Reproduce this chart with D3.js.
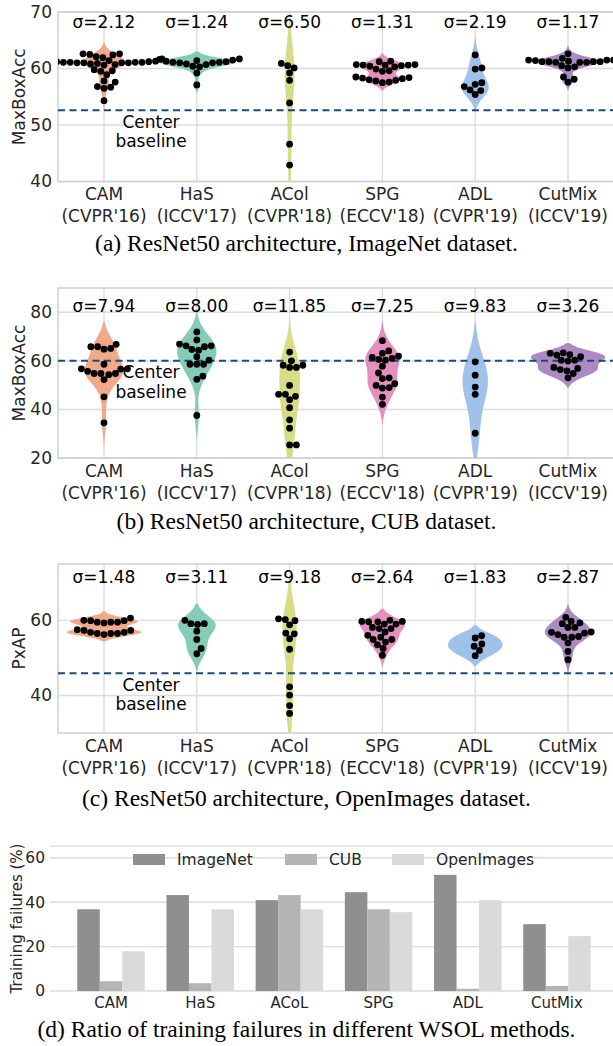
<!DOCTYPE html>
<html>
<head>
<meta charset="utf-8">
<script src="https://cdn.jsdelivr.net/npm/d3@7"></script>
<style>
  body { margin: 0; background: #fff; }
  svg { display: block; font-family: "DejaVu Sans", sans-serif; }
</style>
</head>
<body>
<svg id="chart" width="613" height="1046"></svg>
<script>
// categories
const methods = ["CAM", "HaS", "ACol", "SPG", "ADL", "CutMix"];
const venues = ["(CVPR'16)", "(ICCV'17)", "(CVPR'18)", "(ECCV'18)", "(CVPR'19)", "(ICCV'19)"];
const violinColors = ["#f0a98b", "#84ccb7", "#d6dd84", "#e58fbf", "#a0c1e9", "#ac8ac2"];

// (a) ImageNet MaxBoxAcc, one list per method
const imagenetBox = [
  [62.6, 62.5, 62.4, 62.6, 62.1, 61.9, 61.7, 61.4, 61.3, 61.3, 61.1, 61.1, 61.0, 61.0, 61.1, 61.2, 61.0,
   61.1, 60.9, 61.0, 61.2, 60.8, 60.6, 60.7, 59.8, 59.5, 59.6, 58.9, 57.6, 57.8, 56.7, 56.5, 56.8, 54.3],
  [61.7, 61.6, 61.5, 61.4, 61.3, 61.2, 61.1, 61.1, 61.0, 61.0, 60.8, 60.7, 60.4, 60.3, 59.2, 57.1],
  [60.9, 60.5, 60.1, 59.2, 57.9, 53.9, 46.6, 42.9],
  [61.3, 61.2, 60.7, 60.6, 60.5, 60.6, 60.4, 60.3, 60.6, 60.7, 59.6, 59.5, 59.9, 58.5, 58.3, 58.0, 57.8,
   57.5, 57.6, 57.9, 58.2, 58.4],
  [62.4, 60.1, 59.9, 57.5, 57.2, 56.8, 56.1, 56.2, 55.4],
  [61.5, 61.2, 61.1, 61.1, 61.2, 61.4, 61.8, 61.5, 61.2, 61.1, 61.2, 61.3, 61.5, 62.6, 60.3, 60.1, 60.5,
   58.1, 58.5, 57.6]
];
const imagenetSigma = ["2.12", "1.24", "6.50", "1.31", "2.19", "1.17"];
const imagenetBaseline = 52.6;

// (b) CUB MaxBoxAcc
const cubBox = [
  [66.8, 65.1, 64.8, 65.8, 65.8, 58.6, 56.7, 54.8, 54.3, 56.6, 54.8, 54.8, 55.7, 56.7, 52.3, 45.2, 34.5],
  [71.9, 68.6, 66.9, 66.2, 66.2, 65.8, 64.4, 64.7, 61.7, 60.3, 58.6, 58.6, 58.6, 53.7, 52.4, 37.5],
  [63.6, 60.0, 57.3, 57.3, 58.2, 58.2, 49.9, 45.4, 44.0, 46.2, 46.2, 40.7, 35.7, 32.3, 25.4, 25.4],
  [68.3, 64.1, 63.1, 61.4, 60.3, 60.6, 61.0, 61.9, 57.8, 55.0, 53.0, 52.7, 50.6, 49.9, 49.0, 48.8, 45.1, 42.1],
  [59.6, 54.1, 49.2, 46.2, 30.2],
  [62.4, 62.6, 63.3, 63.1, 61.7, 60.3, 59.9, 60.3, 56.9, 55.9, 56.4, 57.3, 54.8, 53.0]
];
const cubSigma = ["7.94", "8.00", "11.85", "7.25", "9.83", "3.26"];
const cubBaseline = 60.0;

// (c) OpenImages PxAP
const openimagesPxap = [
  [60.0, 59.9, 59.5, 59.3, 59.5, 59.5, 59.9, 60.6, 57.3, 56.8, 56.5, 56.5, 56.2, 56.5, 56.8, 57.3, 57.5],
  [59.1, 58.9, 59.1, 60.0, 57.1, 54.9, 52.5, 51.1],
  [59.9, 58.8, 60.2, 60.4, 56.4, 56.6, 55.1, 52.3, 42.3, 40.1, 37.3, 35.2],
  [59.7, 59.6, 59.6, 59.7, 60.0, 59.0, 59.0, 57.8, 57.8, 58.1, 56.9, 56.0, 55.5, 54.9, 54.9, 54.2, 53.5, 52.5, 50.7],
  [55.9, 55.3, 53.7, 53.1, 52.0, 50.6],
  [60.8, 59.7, 59.3, 59.1, 58.1, 58.1, 56.9, 56.6, 56.8, 56.2, 55.7, 55.5, 55.5, 54.0, 51.7, 49.5]
];
const openimagesSigma = ["1.48", "3.11", "9.18", "2.64", "1.83", "2.87"];
const openimagesBaseline = 45.9;

// (d) training failures (%)
const barMethods = ["CAM", "HaS", "ACoL", "SPG", "ADL", "CutMix"];
const barSeries = ["ImageNet", "CUB", "OpenImages"];
const failImageNet = [36.8, 43.2, 40.9, 44.5, 52.3, 30.1];
const failCUB = [4.4, 3.5, 43.2, 36.8, 1.0, 2.3];
const failOpenImages = [17.9, 36.8, 36.8, 35.5, 40.9, 24.7];
const barColors = ["#8f8f8f", "#b4b4b4", "#dadada"];
const failTicks = [0, 20, 40, 60];

const svg = d3.select("#chart");
const textColor = "#262626";
const gridColor = "#dcdcdc";
const captionFont = 23.5;

function kde(vals) {
  const n = vals.length;
  const bw = d3.deviation(vals) * Math.pow(n, -0.2);
  const lo = d3.min(vals) - 2 * bw, hi = d3.max(vals) + 2 * bw;
  return d3.range(100).map(i => {
    const t = lo + (hi - lo) * i / 99;
    const dens = d3.sum(vals, v => Math.exp(-0.5 * ((t - v) / bw) ** 2)) / (n * bw * Math.sqrt(2 * Math.PI));
    return [t, dens];
  });
}

// simple beeswarm: each point as close to the center as it can get
function swarm(vals, y, r) {
  const d = 2 * r;
  const pts = vals.map(v => ({v: v, py: y(v)})).sort((a, b) => a.v - b.v);
  const placed = [];
  pts.forEach(p => {
    const near = placed.filter(q => Math.abs(q.py - p.py) < d);
    const cands = [0];
    near.forEach(q => {
      const dx = Math.sqrt(d * d - (q.py - p.py) ** 2);
      cands.push(q.dx + dx, q.dx - dx);
    });
    cands.sort((a, b) => Math.abs(a) - Math.abs(b));
    p.dx = cands.find(c => near.every(q => Math.hypot(q.dx - c, q.py - p.py) >= d - 0.01));
    placed.push(p);
  });
  return placed;
}

function violinPanel(p) {
  const left = 58, right = 614;
  const y = d3.scaleLinear().domain(p.domain).range([p.bottom, p.top]);
  const x = d3.scalePoint().domain(methods).range([104, 568]);
  const half = x.step() * 0.4;
  const g = svg.append("g");

  g.append("clipPath").attr("id", p.id)
    .append("rect").attr("x", left).attr("y", p.top).attr("width", right - left).attr("height", p.bottom - p.top);

  g.selectAll(".hgrid").data(p.ticks).join("line")
    .attr("x1", left).attr("x2", right).attr("y1", d => y(d)).attr("y2", d => y(d))
    .attr("stroke", gridColor).attr("stroke-width", 1.4);
  g.selectAll(".vgrid").data(methods).join("line")
    .attr("x1", d => x(d)).attr("x2", d => x(d)).attr("y1", p.top).attr("y2", p.bottom)
    .attr("stroke", gridColor).attr("stroke-width", 1.4);
  g.append("rect").attr("x", left).attr("y", p.top).attr("width", right - left).attr("height", p.bottom - p.top)
    .attr("fill", "none").attr("stroke", "#cfcfcf").attr("stroke-width", 1.5);

  const dens = p.data.map(kde);
  const gmax = d3.max(dens, ds => d3.max(ds, e => e[1]));
  const area = d3.area()
    .y(e => y(e[0]))
    .x0(e => -e[1] / gmax * half)
    .x1(e => e[1] / gmax * half);

  const plot = g.append("g").attr("clip-path", `url(#${p.id})`);
  plot.selectAll(".violin").data(dens).join("path")
    .attr("transform", (ds, i) => `translate(${x(methods[i])},0)`)
    .attr("d", area)
    .attr("fill", (ds, i) => violinColors[i]);

  plot.append("line")
    .attr("x1", left).attr("x2", right)
    .attr("y1", y(p.baseline)).attr("y2", y(p.baseline))
    .attr("stroke", "#1b4b78").attr("stroke-width", 2).attr("stroke-dasharray", "7,4.5");

  p.data.forEach((vals, i) => {
    plot.append("g").selectAll("circle").data(swarm(vals, y, 3.4)).join("circle")
      .attr("cx", d => x(methods[i]) + d.dx).attr("cy", d => d.py).attr("r", 3.4)
      .attr("fill", "#000");
  });

  g.append("g").selectAll("text").data(p.sigma).join("text")
    .attr("x", (d, i) => x(methods[i])).attr("y", y(p.sigmaAt))
    .attr("text-anchor", "middle").attr("font-size", 17).attr("fill", "#000")
    .text(d => "σ=" + d);

  const cb = g.append("text").attr("text-anchor", "middle").attr("font-size", 17).attr("fill", "#000");
  cb.append("tspan").attr("x", 151).attr("y", y(p.baseline) + 17.5).text("Center");
  cb.append("tspan").attr("x", 151).attr("y", y(p.baseline) + 37).text("baseline");

  const yAxis = g.append("g").attr("transform", `translate(${left},0)`)
    .call(d3.axisLeft(y).tickValues(p.ticks).tickSize(0).tickPadding(6));
  yAxis.select(".domain").remove();
  yAxis.selectAll("text").attr("font-size", 17).attr("font-family", "DejaVu Sans").attr("fill", textColor);

  const xl = g.append("g").selectAll("text").data(methods).join("text")
    .attr("text-anchor", "middle").attr("font-size", 17).attr("fill", textColor);
  xl.append("tspan").attr("x", d => x(d)).attr("y", p.bottom + 18.5).text(d => d);
  xl.append("tspan").attr("x", d => x(d)).attr("y", p.bottom + 40.5).text((d, i) => venues[i]);

  g.append("text")
    .attr("transform", `translate(25,${(p.top + p.bottom) / 2}) rotate(-90)`)
    .attr("text-anchor", "middle").attr("font-size", 17).attr("fill", textColor)
    .text(p.ylabel);

  g.append("text").attr("x", 306.5).attr("y", p.captionY)
    .attr("text-anchor", "middle").attr("font-family", "Liberation Serif, serif").attr("font-size", captionFont)
    .attr("fill", "#000").text(p.caption);
}

violinPanel({
  id: "clipA", data: imagenetBox, sigma: imagenetSigma, baseline: imagenetBaseline,
  domain: [40, 70], ticks: [40, 50, 60, 70], top: 12, bottom: 181.5, sigmaAt: 67.2,
  ylabel: "MaxBoxAcc", caption: "(a) ResNet50 architecture, ImageNet dataset.", captionY: 251
});
violinPanel({
  id: "clipB", data: cubBox, sigma: cubSigma, baseline: cubBaseline,
  domain: [20, 90], ticks: [20, 40, 60, 80], top: 288, bottom: 458, sigmaAt: 80,
  ylabel: "MaxBoxAcc", caption: "(b) ResNet50 architecture, CUB dataset.", captionY: 529
});
violinPanel({
  id: "clipC", data: openimagesPxap, sigma: openimagesSigma, baseline: openimagesBaseline,
  domain: [30, 75], ticks: [40, 60], top: 564, bottom: 733, sigmaAt: 70,
  ylabel: "PxAP", caption: "(c) ResNet50 architecture, OpenImages dataset.", captionY: 806
});

// (d) grouped bars
(function () {
  const left = 50, right = 614, top = 846, bottom = 991;
  const series = [failImageNet, failCUB, failOpenImages];
  const y = d3.scaleLinear().domain([0, 65.3]).range([bottom, top]);
  const x0 = d3.scalePoint().domain(barMethods).range([111, 557]);
  const x1 = d3.scaleBand().domain(barSeries).range([-33.75, 33.75]);
  const g = svg.append("g");

  g.selectAll(".grid").data(failTicks).join("line")
    .attr("x1", left).attr("x2", right).attr("y1", d => y(d)).attr("y2", d => y(d))
    .attr("stroke", gridColor).attr("stroke-width", 1.4);
  g.append("line").attr("x1", left).attr("x2", right).attr("y1", top).attr("y2", top)
    .attr("stroke", "#e2e2e2").attr("stroke-width", 1.4);

  g.selectAll(".grp").data(barMethods).join("g")
    .attr("transform", d => `translate(${x0(d)},0)`)
    .selectAll("rect")
    .data((d, i) => barSeries.map((s, k) => ({key: s, value: series[k][i], k: k})))
    .join("rect")
    .attr("x", d => x1(d.key)).attr("width", x1.bandwidth())
    .attr("y", d => y(d.value)).attr("height", d => y(0) - y(d.value))
    .attr("fill", d => barColors[d.k]);

  const yAxis = g.append("g").attr("transform", `translate(${left},0)`)
    .call(d3.axisLeft(y).tickValues(failTicks).tickSize(0).tickPadding(5));
  yAxis.select(".domain").remove();
  yAxis.selectAll("text").attr("font-size", 15.5).attr("font-family", "DejaVu Sans").attr("fill", textColor);

  g.append("g").selectAll("text").data(barMethods).join("text")
    .attr("x", d => x0(d)).attr("y", bottom + 16.5)
    .attr("text-anchor", "middle").attr("font-size", 15).attr("fill", textColor)
    .text(d => d);

  g.append("text")
    .attr("transform", `translate(22,${(top + bottom) / 2}) rotate(-90)`)
    .attr("text-anchor", "middle").attr("font-size", 15).attr("fill", textColor)
    .text("Training failures (%)");

  const legX = [133, 285, 392];
  const leg = g.append("g").selectAll("g").data(barSeries).join("g")
    .attr("transform", (d, i) => `translate(${legX[i]},854)`);
  leg.append("rect").attr("width", 32).attr("height", 11).attr("fill", (d, i) => barColors[i]);
  leg.append("text").attr("x", 44).attr("y", 11).attr("font-size", 15.5).attr("fill", textColor).text(d => d);

  g.append("text").attr("x", 306.5).attr("y", 1037)
    .attr("text-anchor", "middle").attr("font-family", "Liberation Serif, serif").attr("font-size", captionFont)
    .attr("fill", "#000").text("(d) Ratio of training failures in different WSOL methods.");
})();
</script>
</body>
</html>
